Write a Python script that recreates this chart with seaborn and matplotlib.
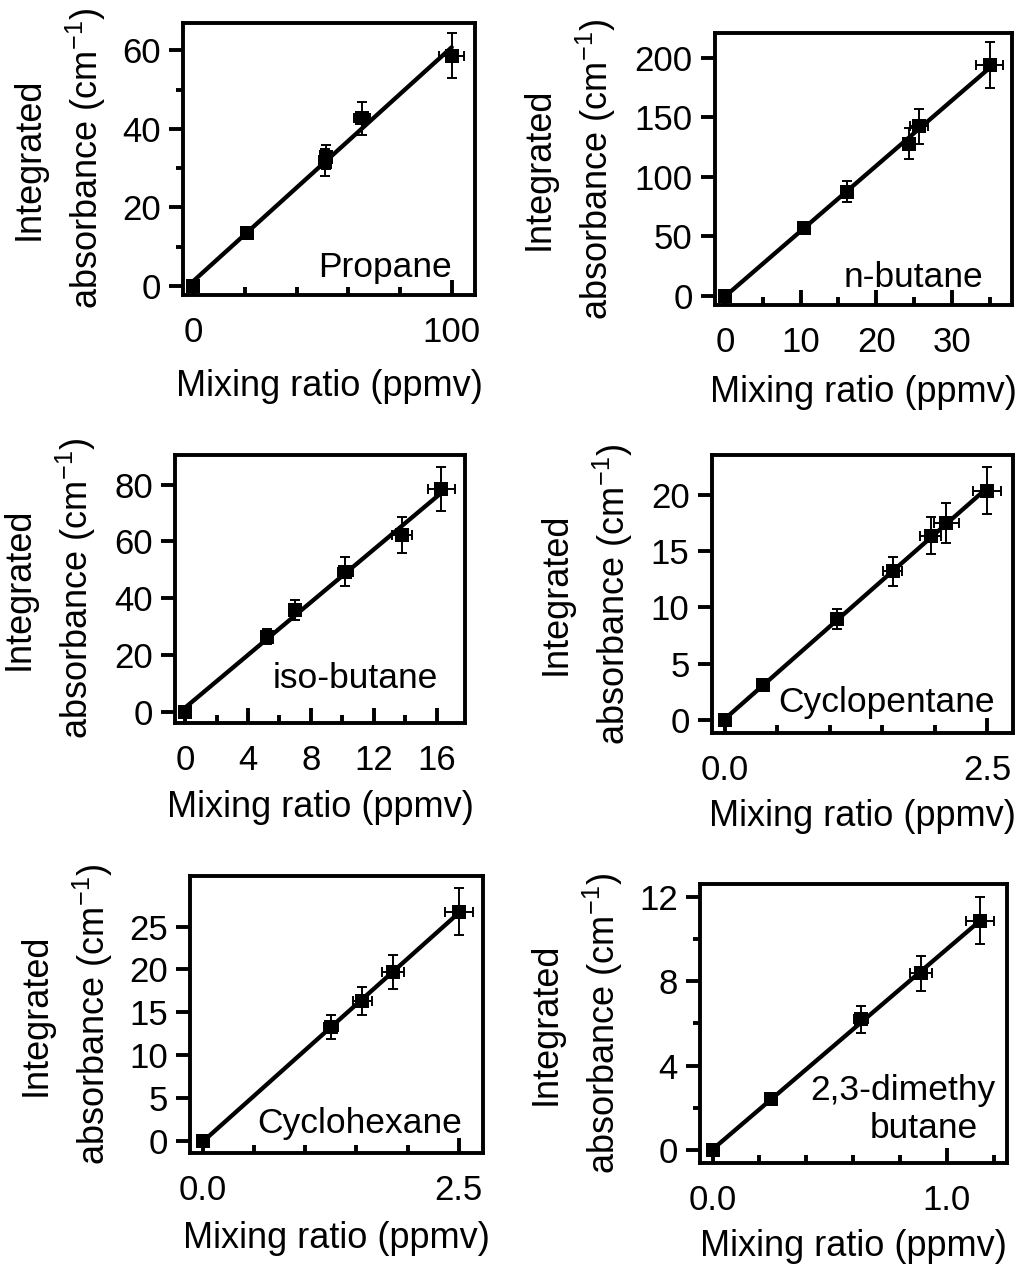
"""Calibration curves: integrated absorbance vs mixing ratio for six hydrocarbons."""

import matplotlib

matplotlib.use("Agg")

import matplotlib.pyplot as plt
import seaborn as sns
from matplotlib.ticker import FixedLocator, FixedFormatter

sns.set_theme(style="ticks")
plt.rcParams["font.family"] = ["Liberation Sans", "DejaVu Sans"]
plt.rcParams["mathtext.fontset"] = "custom"
plt.rcParams["mathtext.rm"] = "Liberation Sans"
plt.rcParams["mathtext.default"] = "regular"

# ---- data ----
propane_x = [0, 20.6, 51.0, 51.5, 65.2, 100.0]
propane_y = [0, 13.4, 31.5, 32.8, 42.7, 58.7]
propane_xerr = [0.5, 0.8, 1.5, 1.5, 3.0, 4.8]
propane_yerr = [0.4, 0.8, 3.5, 3.0, 4.2, 5.8]

nbutane_x = [0, 10.4, 16.1, 24.3, 25.7, 35.0]
nbutane_y = [0, 57.4, 87.6, 127.7, 142.3, 193.5]
nbutane_xerr = [0.2, 0.4, 0.5, 0.6, 1.2, 1.8]
nbutane_yerr = [2.0, 3.0, 8.8, 13.0, 14.6, 19.3]

isobutane_x = [0, 5.2, 7.0, 10.2, 13.8, 16.3]
isobutane_y = [0, 26.4, 35.8, 49.3, 62.2, 78.4]
isobutane_xerr = [0.1, 0.3, 0.35, 0.5, 0.64, 0.87]
isobutane_yerr = [0.8, 2.7, 3.6, 5.1, 6.3, 7.9]

cyclopentane_x = [0, 0.36, 1.07, 1.60, 1.96, 2.11, 2.50]
cyclopentane_y = [0, 3.1, 8.95, 13.2, 16.4, 17.5, 20.4]
cyclopentane_xerr = [0.01, 0.02, 0.03, 0.09, 0.10, 0.12, 0.135]
cyclopentane_yerr = [0.1, 0.2, 0.9, 1.33, 1.66, 1.78, 2.06]

cyclohexane_x = [0, 1.25, 1.56, 1.86, 2.50]
cyclohexane_y = [0, 13.3, 16.3, 19.75, 26.75]
cyclohexane_xerr = [0.01, 0.07, 0.09, 0.106, 0.135]
cyclohexane_yerr = [0.1, 1.4, 1.65, 1.98, 2.72]

dmb_x = [0, 0.25, 0.634, 0.89, 1.142]
dmb_y = [0, 2.4, 6.19, 8.37, 10.87]
dmb_xerr = [0.005, 0.01, 0.03, 0.046, 0.06]
dmb_yerr = [0.05, 0.1, 0.62, 0.83, 1.1]

XLABEL = "Mixing ratio (ppmv)"
YLABEL = "Integrated\nabsorbance (cm$^{-1}$)"

# panel layout: [left, bottom, width, height] in figure fraction
panels = [
    dict(rect=[0.1792, 0.7672, 0.2860, 0.2147], x=propane_x, y=propane_y,
         xerr=propane_xerr, yerr=propane_yerr, xlim=(-4, 109), ylim=(-2.3, 67),
         xmajor=[0, 100], xlabels=["0", "100"], xminor=[20, 40, 60, 80],
         ymajor=[0, 20, 40, 60], yminor=[10, 30, 50],
         names=[("Propane", 0.92, 0.066)], ylab_dx=-123, xlab_dy=92),
    dict(rect=[0.7003, 0.7593, 0.2906, 0.2144], x=nbutane_x, y=nbutane_y,
         xerr=nbutane_xerr, yerr=nbutane_yerr, xlim=(-1.3, 37.9), ylim=(-7.6, 220.4),
         xmajor=[0, 10, 20, 30], xlabels=["0", "10", "20", "30"], xminor=[5, 15, 25, 35],
         ymajor=[0, 50, 100, 150, 200], yminor=[],
         names=[("n-butane", 0.904, 0.067)], ylab_dx=-145, xlab_dy=88),
    dict(rect=[0.1714, 0.4296, 0.2840, 0.2113], x=isobutane_x, y=isobutane_y,
         xerr=isobutane_xerr, yerr=isobutane_yerr, xlim=(-0.64, 17.8), ylim=(-3.9, 90.4),
         xmajor=[0, 4, 8, 12, 16], xlabels=["0", "4", "8", "12", "16"], xminor=[2, 6, 10, 14],
         ymajor=[0, 20, 40, 60, 80], yminor=[],
         names=[("iso-butane", 0.908, 0.128)], ylab_dx=-125, xlab_dy=85),
    dict(rect=[0.6971, 0.4212, 0.2954, 0.2197], x=cyclopentane_x, y=cyclopentane_y,
         xerr=cyclopentane_xerr, yerr=cyclopentane_yerr, xlim=(-0.127, 2.75), ylim=(-1.19, 23.56),
         xmajor=[0, 2.5], xlabels=["0.0", "2.5"], xminor=[0.5, 1.0, 1.5, 2.0],
         ymajor=[0, 5, 10, 15, 20], yminor=[],
         names=[("Cyclopentane", 0.939, 0.078)], ylab_dx=-125, xlab_dy=83),
    dict(rect=[0.1861, 0.0897, 0.2873, 0.2189], x=cyclohexane_x, y=cyclohexane_y,
         xerr=cyclohexane_xerr, yerr=cyclohexane_yerr, xlim=(-0.124, 2.74), ylim=(-1.44, 30.9),
         xmajor=[0, 2.5], xlabels=["0.0", "2.5"], xminor=[0.5, 1.0, 1.5, 2.0],
         ymajor=[0, 5, 10, 15, 20, 25], yminor=[],
         names=[("Cyclohexane", 0.926, 0.072)], ylab_dx=-123, xlab_dy=85),
    dict(rect=[0.6856, 0.0823, 0.3004, 0.2197], x=dmb_x, y=dmb_y,
         xerr=dmb_xerr, yerr=dmb_yerr, xlim=(-0.054, 1.256), ylim=(-0.6, 12.59),
         xmajor=[0, 1.0], xlabels=["0.0", "1.0"], xminor=[0.2, 0.4, 0.6, 0.8, 1.2],
         ymajor=[0, 4, 8, 12], yminor=[2, 6, 10],
         names=[("2,3-dimethy", 0.962, 0.225), ("butane", 0.907, 0.088)],
         ylab_dx=-123, xlab_dy=84),
]

W, H = 1021, 1267
fig = plt.figure(figsize=(W / 100, H / 100), dpi=100)

for p in panels:
    ax = fig.add_axes(p["rect"])
    sns.regplot(x=p["x"], y=p["y"], scatter=False, ci=None, truncate=True,
                line_kws=dict(color="black", lw=3.1, zorder=2), ax=ax)
    ax.errorbar(p["x"], p["y"], xerr=p["xerr"], yerr=p["yerr"], fmt="none",
                ecolor="black", elinewidth=1.4, capsize=3.5, capthick=1.4, zorder=3)
    sns.scatterplot(x=p["x"], y=p["y"], marker="s", s=105, color="black",
                    linewidth=0, ax=ax, zorder=4)

    ax.set_xlim(*p["xlim"])
    ax.set_ylim(*p["ylim"])
    ax.xaxis.set_major_locator(FixedLocator(p["xmajor"]))
    ax.xaxis.set_major_formatter(FixedFormatter(p["xlabels"]))
    ax.xaxis.set_minor_locator(FixedLocator(p["xminor"]))
    ax.yaxis.set_major_locator(FixedLocator(p["ymajor"]))
    ax.yaxis.set_minor_locator(FixedLocator(p["yminor"]))

    ax.tick_params(axis="x", which="both", direction="in", width=2.8, labelsize=25,
                   pad=15, color="black", labelcolor="black")
    ax.tick_params(axis="x", which="major", length=11)
    ax.tick_params(axis="x", which="minor", length=6)
    ax.tick_params(axis="y", which="both", direction="out", width=2.8, labelsize=25,
                   pad=6, color="black", labelcolor="black")
    ax.tick_params(axis="y", which="major", length=10)
    ax.tick_params(axis="y", which="minor", length=5)

    for spine in ax.spines.values():
        spine.set_visible(True)
        spine.set_linewidth(2.8)
        spine.set_color("black")

    width_px = p["rect"][2] * W
    height_px = p["rect"][3] * H
    ax.set_xlabel(XLABEL, fontsize=26, color="black")
    ax.xaxis.set_label_coords(0.5, -p["xlab_dy"] / height_px)
    ax.xaxis.label.set_va("center")
    ax.set_ylabel(YLABEL, fontsize=26, color="black", linespacing=1.5)
    ax.yaxis.set_label_coords(p["ylab_dx"] / width_px, 0.5)
    ax.yaxis.label.set_va("center")

    for name, tx, ty in p["names"]:
        ax.text(tx, ty, name, transform=ax.transAxes, ha="right", va="baseline",
                fontsize=25.5, color="black")

fig.savefig("out.png", dpi=100)
